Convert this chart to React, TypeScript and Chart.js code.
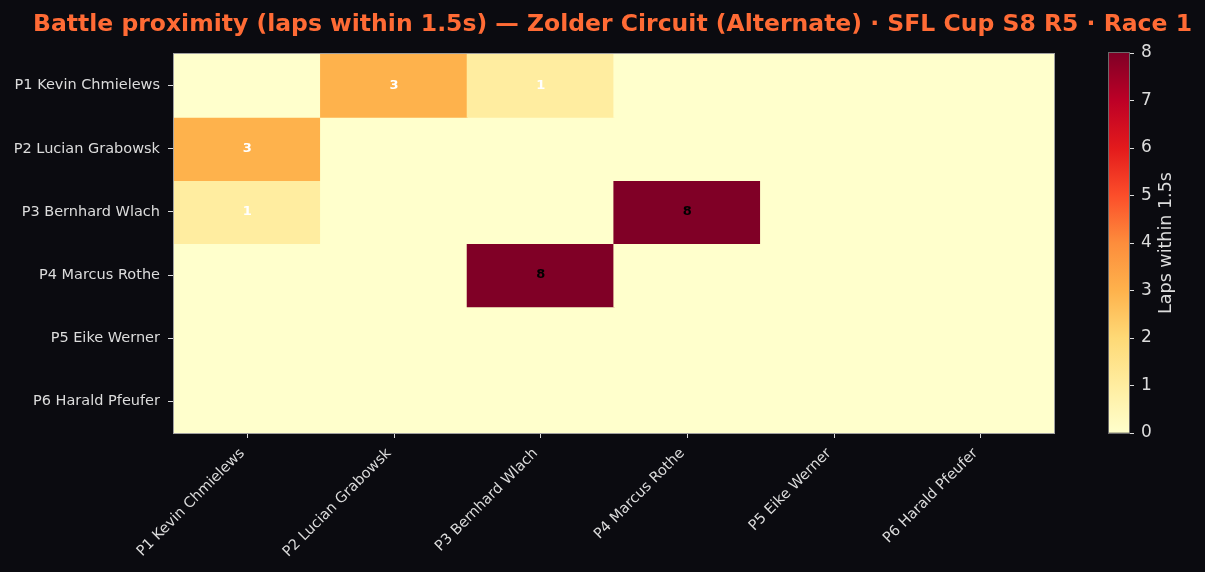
import React, { useEffect, useRef } from "react";
import { Chart, registerables } from "chart.js";

Chart.register(...registerables);

const TITLE = "Battle proximity (laps within 1.5s) — Zolder Circuit (Alternate) · SFL Cup S8 R5 · Race 1";
const drivers = [
  "P1 Kevin Chmielews",
  "P2 Lucian Grabowsk",
  "P3 Bernhard Wlach",
  "P4 Marcus Rothe",
  "P5 Eike Werner",
  "P6 Harald Pfeufer",
];
const rowP1 = [0, 3, 1, 0, 0, 0];
const rowP2 = [3, 0, 0, 0, 0, 0];
const rowP3 = [1, 0, 0, 8, 0, 0];
const rowP4 = [0, 0, 8, 0, 0, 0];
const rowP5 = [0, 0, 0, 0, 0, 0];
const rowP6 = [0, 0, 0, 0, 0, 0];
const matrix = [rowP1, rowP2, rowP3, rowP4, rowP5, rowP6];
const colorbarTicks = [0, 1, 2, 3, 4, 5, 6, 7, 8];
const vMax = 8;
const cbLabel = "Laps within 1.5s";

const YLORRD = ["#ffffcc", "#ffeda0", "#fed976", "#feb24c", "#fd8d3c", "#fc4e2a", "#e31a1c", "#bd0026", "#800026"];
const BG = "#0b0b10";
const TXT = "#dcdcdc";
const FONT = "'DejaVu Sans', sans-serif";

function hexToRgb(h: string) {
  const n = parseInt(h.slice(1), 16);
  return [(n >> 16) & 255, (n >> 8) & 255, n & 255];
}
function colorFor(v: number) {
  const t = Math.max(0, Math.min(1, v / vMax)) * (YLORRD.length - 1);
  const i = Math.min(YLORRD.length - 2, Math.floor(t));
  const f = t - i;
  const a = hexToRgb(YLORRD[i]);
  const b = hexToRgb(YLORRD[i + 1]);
  const c = a.map((x, k) => Math.round(x + (b[k] - x) * f));
  return `rgb(${c[0]},${c[1]},${c[2]})`;
}

export default function App() {
  const mainRef = useRef<HTMLCanvasElement>(null);
  const cbRef = useRef<HTMLCanvasElement>(null);

  useEffect(() => {
    const framePlugin = {
      id: "frame",
      afterDraw(chart: any) {
        const { ctx, chartArea: a } = chart;
        ctx.save();
        ctx.strokeStyle = "#a0a0a0";
        ctx.lineWidth = 1;
        ctx.strokeRect(Math.round(a.left) - 0.5, Math.round(a.top) - 0.5, Math.round(a.right - a.left) + 1, Math.round(a.bottom - a.top) + 1);
        ctx.restore();
      },
    };
    const cellLabels = {
      id: "cellLabels",
      afterDatasetsDraw(chart: any) {
        const { ctx } = chart;
        ctx.save();
        ctx.font = `bold 13px ${FONT}`;
        ctx.textAlign = "center";
        ctx.textBaseline = "middle";
        matrix.forEach((row, r) => {
          const meta = chart.getDatasetMeta(r);
          row.forEach((v, c) => {
            if (v <= 0) return;
            const el = meta.data[c];
            const p = el.getCenterPoint();
            ctx.fillStyle = v >= vMax * 0.6 ? "#000000" : "#ffffff";
            ctx.fillText(String(v), p.x, p.y);
          });
        });
        ctx.restore();
      },
    };
    const titlePlugin = {
      id: "titleText",
      afterDraw(chart: any) {
        const { ctx } = chart;
        ctx.save();
        ctx.font = `bold 23.5px ${FONT}`;
        ctx.fillStyle = "#ff6b35";
        ctx.textAlign = "center";
        ctx.textBaseline = "alphabetic";
        ctx.fillText(TITLE, 612.5, 31);
        ctx.restore();
      },
    };

    const main = new Chart(mainRef.current!, {
      type: "bar",
      data: {
        labels: drivers,
        datasets: matrix.map((row, r) => ({
          label: drivers[r],
          data: row.map(() => [r, r + 1]) as any,
          backgroundColor: row.map(colorFor),
          borderWidth: 0,
          inflateAmount: 0.6,
          grouped: false,
          categoryPercentage: 1,
          barPercentage: 1,
        })),
      },
      options: {
        animation: false,
        responsive: false,
        devicePixelRatio: 1,
        layout: { padding: { left: 0, right: 151, top: 54, bottom: 0 } },
        plugins: { legend: { display: false }, tooltip: { enabled: false }, title: { display: false } },
        scales: {
          x: {
            type: "category",
            offset: true,
            grid: { offset: false, drawOnChartArea: false, drawTicks: true, tickLength: 5, color: TXT },
            border: { display: false },
            ticks: { color: TXT, font: { family: FONT, size: 14.5 }, maxRotation: 45, minRotation: 45, autoSkip: false, padding: 7, labelOffset: -5 },
            afterFit(s: any) { s.height = 139; },
          },
          y: {
            type: "linear",
            min: 0,
            max: drivers.length,
            reverse: true,
            grid: { drawOnChartArea: false, drawTicks: true, tickLength: 6, color: TXT },
            border: { display: false },
            afterBuildTicks(s: any) { s.ticks = drivers.map((_, i) => ({ value: i + 0.5 })); },
            ticks: {
              color: TXT,
              font: { family: FONT, size: 14.5 },
              autoSkip: false,
              padding: 8,
              callback: (v: any) => drivers[Math.floor(Number(v))] ?? "",
            },
            afterFit(s: any) { s.width = 174; },
          },
        },
      },
      plugins: [cellLabels, framePlugin, titlePlugin],
    } as any);

    const cbFrame = {
      id: "cbFrame",
      afterDraw(chart: any) {
        const { ctx, chartArea: a } = chart;
        ctx.save();
        ctx.strokeStyle = "#6a6a6a";
        ctx.lineWidth = 1;
        ctx.strokeRect(Math.round(a.left) - 0.5, Math.round(a.top) - 0.5, Math.round(a.right - a.left) + 1, Math.round(a.bottom - a.top) + 1);
        ctx.font = `17.5px ${FONT}`;
        ctx.fillStyle = TXT;
        ctx.textAlign = "center";
        ctx.textBaseline = "middle";
        ctx.translate(76.5, (a.top + a.bottom) / 2);
        ctx.rotate(-Math.PI / 2);
        ctx.fillText(cbLabel, 0, 0);
        ctx.restore();
      },
    };

    const cb = new Chart(cbRef.current!, {
      type: "bar",
      data: {
        labels: ["cb"],
        datasets: [
          {
            data: [[colorbarTicks[0], colorbarTicks[colorbarTicks.length - 1]]] as any,
            backgroundColor: (c: any) => {
              const a = c.chart.chartArea;
              if (!a) return YLORRD[0];
              const g = c.chart.ctx.createLinearGradient(0, a.bottom, 0, a.top);
              YLORRD.forEach((col, i) => g.addColorStop(i / (YLORRD.length - 1), col));
              return g;
            },
            borderWidth: 0,
            categoryPercentage: 1,
            barPercentage: 1,
          },
        ],
      },
      options: {
        animation: false,
        responsive: false,
        devicePixelRatio: 1,
        layout: { padding: { left: 19, right: 0, top: 53, bottom: 139 } },
        plugins: { legend: { display: false }, tooltip: { enabled: false } },
        scales: {
          x: { display: false },
          y: {
            position: "right",
            min: 0,
            max: vMax,
            grid: { drawOnChartArea: false, drawTicks: true, tickLength: 5, color: TXT },
            border: { display: false },
            afterBuildTicks(s: any) { s.ticks = colorbarTicks.map((v) => ({ value: v })); },
            ticks: { color: TXT, font: { family: FONT, size: 17 }, padding: 7 },
            afterFit(s: any) { s.width = 76; },
          },
        },
      },
      plugins: [cbFrame],
    } as any);

    return () => {
      main.destroy();
      cb.destroy();
    };
  }, []);

  return (
    <div style={{ position: "fixed", left: 0, top: 0, width: 1205, height: 572, background: BG, overflow: "hidden" }}>
      <canvas ref={mainRef} width={1205} height={572} style={{ position: "absolute", left: 0, top: 0, width: 1205, height: 572 }} />
      <canvas ref={cbRef} width={115} height={572} style={{ position: "absolute", left: 1090, top: 0, width: 115, height: 572 }} />
    </div>
  );
}
